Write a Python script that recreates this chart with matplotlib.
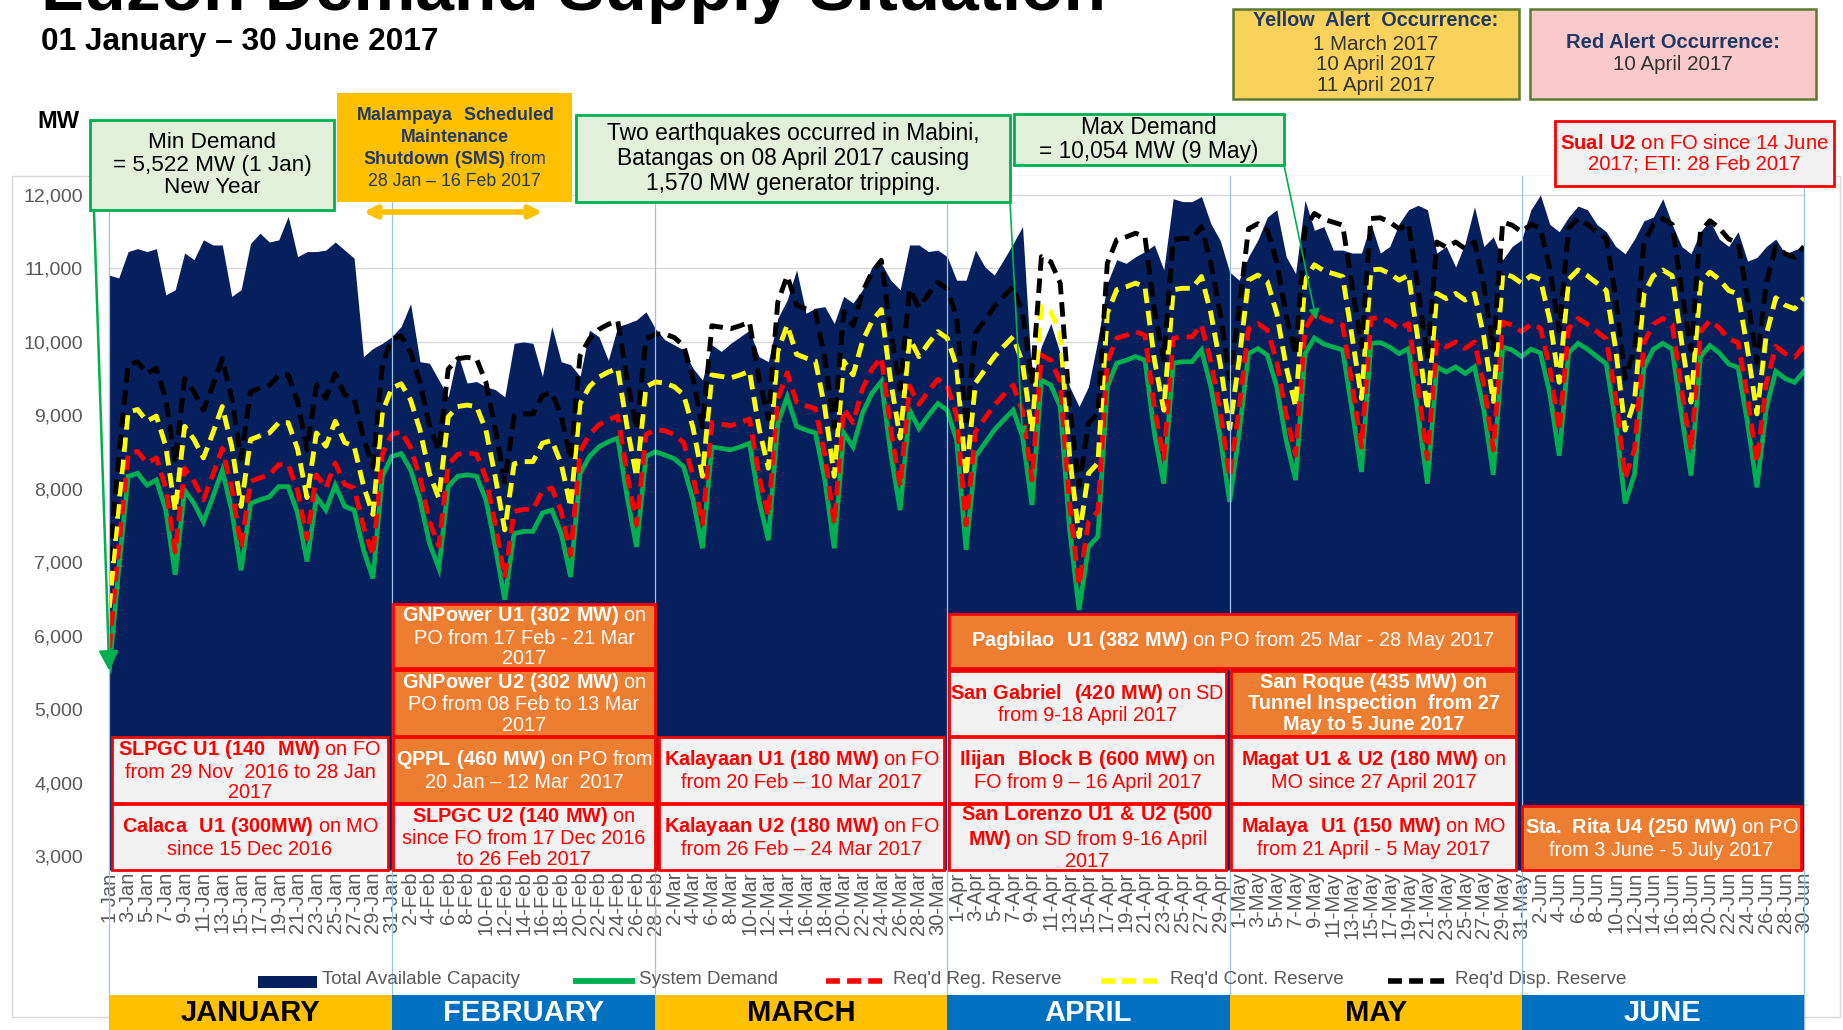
import numpy as np
import pandas as pd
import matplotlib
matplotlib.use("Agg")
import matplotlib.pyplot as plt
from matplotlib.patches import Rectangle
from matplotlib.lines import Line2D
from matplotlib.transforms import blended_transform_factory

plt.rcParams['font.family'] = ['Liberation Sans', 'DejaVu Sans']
plt.rcParams['mathtext.fontset'] = 'custom'
plt.rcParams['mathtext.rm'] = 'Liberation Sans'
plt.rcParams['mathtext.bf'] = 'Liberation Sans:bold'

# --- daily data, 1 Jan - 30 Jun 2017 (MW) ---
capacity = (
    # Jan
    [10910, 10870, 11230, 11270, 11230, 11270, 10640, 10710, 11210, 11120, 11390, 11320, 11320, 10620, 10710, 11340,
     11480, 11360, 11390, 11710, 11160, 11230, 11230, 11250, 11360, 11250, 11140, 9800, 9910, 9980, 10070]
    # Feb
    + [10210, 10520, 9730, 9710, 9480, 9250, 9840, 9440, 9460, 9390, 9350, 9250, 9980, 10000, 9980, 9530, 10210,
       9730, 9690, 9530, 10160, 10070, 9750, 10210, 10250, 10300, 10410, 10180]
    # Mar
    + [10030, 9960, 9890, 9640, 9480, 9960, 9870, 9980, 10070, 10160, 9800, 9730, 10320, 10570, 10980, 10390, 10460,
       10480, 10250, 10620, 10530, 10710, 11020, 11070, 10840, 10710, 11320, 11320, 11230, 11250, 11160]
    # Apr
    + [10840, 10840, 11250, 11020, 10910, 11120, 11340, 11570, 9480, 9940, 10250, 9840, 9390, 9120, 9390, 10030,
       10800, 11120, 11070, 11160, 11230, 11320, 10980, 11950, 11910, 11910, 11980, 11610, 11380, 10950]
    # May
    + [10840, 11160, 11390, 11700, 11800, 11160, 10930, 11930, 11520, 11570, 11250, 11250, 11210, 11210, 11610,
       11210, 11300, 11610, 11800, 11860, 11800, 11210, 11300, 11020, 11340, 11840, 11300, 11430, 11120, 11300, 11390]
    # Jun
    + [11800, 12000, 11600, 11500, 11700, 11850, 11800, 11600, 11500, 11300, 11200, 11400, 11650, 11700, 11950,
       11600, 11300, 11200, 11500, 11650, 11400, 11300, 11500, 11100, 11150, 11300, 11400, 11200, 11250, 11300]
)

demand = (
    [5522, 6900, 8170, 8210, 8050, 8120, 7710, 6830, 7980, 7800, 7550, 7890, 8250, 7710, 6890, 7800, 7850, 7890,
     8030, 8030, 7670, 7010, 7890, 7710, 8050, 7760, 7710, 7170, 6780, 8170, 8440]
    + [8480, 8260, 7850, 7260, 6920, 8030, 8170, 8190, 8170, 7850, 7210, 6490, 7390, 7420, 7420, 7670, 7710, 7390,
       6800, 8210, 8440, 8570, 8640, 8690, 7890, 7210, 8440, 8505]
    + [8460, 8410, 8300, 7850, 7190, 8570, 8550, 8530, 8570, 8620, 7850, 7300, 8890, 9250, 8850, 8800, 8760, 8120,
       7190, 8760, 8570, 9030, 9300, 9460, 8480, 7710, 9070, 8820, 9000, 9160, 9070]
    + [8660, 7170, 8440, 8620, 8800, 8940, 9070, 8710, 7780, 9480, 9410, 9120, 7440, 6350, 7210, 7350, 9390, 9710,
       9750, 9800, 9750, 8760, 8070, 9710, 9730, 9730, 9890, 9390, 8700, 7820]
    + [8750, 9840, 9910, 9820, 9390, 8660, 8120, 9840, 10054, 9970, 9930, 9890, 9070, 8230, 9980, 9990, 9930, 9840,
       9910, 9030, 8070, 9660, 9590, 9660, 9570, 9660, 9070, 8190, 9930, 9890, 9800]
    + [9900, 9850, 9300, 8450, 9850, 9980, 9900, 9800, 9700, 8900, 7800, 8200, 9650, 9900, 9980, 9900, 9000, 8180,
       9800, 9950, 9850, 9700, 9650, 8900, 8020, 9100, 9600, 9500, 9450, 9600]
)

reg_reserve = (
    [5830, 7210, 8470, 8510, 8350, 8420, 8010, 7140, 8280, 8100, 7850, 8190, 8550, 8010, 7200, 8100, 8150, 8190,
     8330, 8330, 7970, 7320, 8190, 8010, 8350, 8060, 8010, 7480, 7090, 8470, 8740]
    + [8780, 8560, 8150, 7560, 7220, 8330, 8470, 8490, 8470, 8150, 7510, 6790, 7690, 7720, 7720, 7970, 8010, 7690,
       7100, 8510, 8740, 8870, 8940, 8990, 8190, 7510, 8740, 8805]
    + [8790, 8740, 8630, 8180, 7520, 8900, 8880, 8860, 8900, 8950, 8180, 7630, 9220, 9580, 9180, 9130, 9090, 8450,
       7520, 9090, 8900, 9360, 9630, 9790, 8810, 8040, 9400, 9150, 9330, 9490, 9400]
    + [9000, 7510, 8780, 8960, 9140, 9280, 9410, 9050, 8120, 9820, 9750, 9460, 7780, 6690, 7550, 7690, 9730, 10050,
       10090, 10140, 10090, 9100, 8410, 10050, 10070, 10070, 10230, 9730, 9040, 8160]
    + [9090, 10180, 10250, 10160, 9730, 9000, 8460, 10180, 10390, 10310, 10270, 10230, 9410, 8570, 10320, 10330,
       10270, 10180, 10250, 9370, 8410, 10000, 9930, 10000, 9910, 10000, 9410, 8530, 10270, 10230, 10140]
    + [10240, 10190, 9640, 8790, 10190, 10320, 10240, 10140, 10040, 9240, 8140, 8540, 9990, 10240, 10320, 10240,
       9340, 8520, 10140, 10290, 10190, 10040, 9990, 9240, 8360, 9440, 9940, 9840, 9790, 9940]
)

cont_reserve = (
    [6380, 7780, 9040, 9080, 8920, 8990, 8580, 7700, 8850, 8670, 8420, 8760, 9120, 8580, 7760, 8670, 8720, 8760,
     8900, 8900, 8540, 7880, 8760, 8580, 8920, 8630, 8580, 8040, 7650, 9040, 9370]
    + [9430, 9210, 8800, 8210, 7870, 8980, 9120, 9140, 9120, 8800, 8160, 7440, 8340, 8370, 8370, 8620, 8660, 8340,
       7750, 9160, 9390, 9520, 9590, 9640, 8840, 8160, 9390, 9455]
    + [9440, 9390, 9280, 8830, 8170, 9550, 9530, 9510, 9550, 9600, 8830, 8280, 9870, 10230, 9830, 9780, 9740, 9100,
       8170, 9740, 9550, 10010, 10280, 10440, 9460, 8690, 10050, 9800, 9980, 10140, 10050]
    + [9660, 8170, 9440, 9620, 9800, 9940, 10070, 9710, 8780, 10480, 10410, 10120, 8440, 7350, 8210, 8350, 10390,
       10710, 10750, 10800, 10750, 9760, 9070, 10710, 10730, 10730, 10890, 10390, 9700, 8820]
    + [9750, 10840, 10910, 10820, 10390, 9660, 9120, 10840, 11050, 10970, 10930, 10890, 10070, 9230, 10980, 10990,
       10930, 10840, 10910, 10030, 9070, 10660, 10590, 10660, 10570, 10660, 10070, 9190, 10930, 10890, 10800]
    + [10900, 10850, 10300, 9450, 10850, 10980, 10900, 10800, 10700, 9900, 8800, 9200, 10650, 10900, 10980, 10900,
       10000, 9180, 10800, 10950, 10850, 10700, 10650, 9900, 9020, 10100, 10600, 10500, 10450, 10600]
)

disp_reserve = (
    [7020, 8420, 9690, 9730, 9570, 9640, 9230, 8350, 9500, 9320, 9070, 9410, 9770, 9230, 8410, 9320, 9370, 9410,
     9550, 9550, 9190, 8530, 9410, 9230, 9570, 9280, 9230, 8690, 8300, 9690, 10040]
    + [10080, 9860, 9450, 8860, 8520, 9630, 9770, 9790, 9770, 9450, 8810, 8090, 8990, 9020, 9020, 9270, 9310, 8990,
       8400, 9810, 10040, 10170, 10240, 10290, 9490, 8810, 10040, 10105]
    + [10110, 10060, 9950, 9500, 8840, 10220, 10200, 10180, 10220, 10270, 9500, 8950, 10540, 10900, 10500, 10450,
       10410, 9770, 8840, 10410, 10220, 10680, 10950, 11110, 10130, 9360, 10720, 10470, 10650, 10810, 10720]
    + [10340, 8850, 10120, 10300, 10480, 10620, 10750, 10390, 9460, 11160, 11090, 10800, 9120, 8030, 8890, 9030,
       11070, 11390, 11430, 11480, 11430, 10440, 9750, 11390, 11410, 11410, 11570, 11070, 10380, 9500]
    + [10450, 11540, 11610, 11520, 11090, 10360, 9820, 11540, 11750, 11670, 11630, 11590, 10770, 9930, 11680,
       11690, 11630, 11540, 11610, 10730, 9770, 11360, 11290, 11360, 11270, 11360, 10770, 9890, 11630, 11590, 11500]
    + [11600, 11550, 11000, 10150, 11550, 11680, 11600, 11500, 11400, 10600, 9500, 9900, 11350, 11600, 11680,
       11600, 10700, 9880, 11500, 11650, 11550, 11400, 11350, 10600, 9720, 10800, 11300, 11200, 11150, 11300]
)

days = pd.date_range('2017-01-01', '2017-06-30', freq='D')
day_labels = [f"{d.day}-{d:%b}" for d in days]
yticks = list(range(3000, 12001, 1000))

# colours
navy = '#06205E'
green = '#00B050'
red = '#FF0000'
yellow = '#FFFF00'
gold = '#FFC000'
blue = '#0070C0'
orange = '#ED7D31'
light = '#F2F2F2'
gray_txt = '#595959'

W, H = 1843, 1030
fig = plt.figure(figsize=(W / 100, H / 100), dpi=100)


def fx(px):
    return px / W


def fy(py):
    return 1 - py / H


x = np.arange(len(days))
ax = fig.add_axes([fx(109.3), fy(870), fx(1804) - fx(109.3), fy(176) - fy(870)])
ax.set_xlim(0, len(days) - 1)
ax.set_ylim(2809, 12259)
y_floor = ax.get_ylim()[0]

ax.fill_between(x, capacity, y_floor, color=navy, lw=0, zorder=1)
ax.plot(x, demand, color=green, lw=3.4, zorder=3, solid_joinstyle='miter')
dash = (0, (3, 1.6))
ax.plot(x, reg_reserve, color=red, lw=3.5, ls=dash, zorder=4)
ax.plot(x, cont_reserve, color=yellow, lw=3.5, ls=dash, zorder=5)
ax.plot(x, disp_reserve, color='black', lw=3.5, ls=dash, zorder=6)

ax.set_yticks(yticks)
ax.set_yticklabels([f"{v:,}" for v in yticks])
ax.yaxis.grid(True, color='#D9D9D9', lw=1)
ax.set_axisbelow(True)
ax.set_xticks(x[::2])
ax.set_xticklabels(day_labels[::2], rotation=90)
ax.tick_params(axis='y', length=0, pad=19, labelsize=14, labelcolor=gray_txt)
ax.tick_params(axis='x', length=0, pad=1, labelsize=14.5, labelcolor=gray_txt)
for s in ax.spines.values():
    s.set_visible(False)

# month boundaries
month_last = [i for i in range(len(days)) if i == len(days) - 1 or days[i + 1].month != days[i].month]
edges = [0] + month_last
month_names = [days[i].strftime('%B').upper() for i in month_last]
trans = blended_transform_factory(ax.transData, fig.transFigure)
for e in edges:
    ax.add_line(Line2D([e, e], [fy(H), fy(176)], transform=trans, color='#9DC3E6', lw=0.9,
                       clip_on=False, zorder=7))
for k, name in enumerate(month_names):
    fc = gold if k % 2 == 0 else blue
    tc = 'black' if k % 2 == 0 else 'white'
    ax.add_patch(Rectangle((edges[k], fy(H)), edges[k + 1] - edges[k], fy(995) - fy(H), transform=trans,
                           facecolor=fc, edgecolor='none', clip_on=False, zorder=8))
    ax.text((edges[k] + edges[k + 1]) / 2, fy(1013), name, transform=trans, ha='center', va='center',
            fontsize=21, weight='bold', color=tc, zorder=9, clip_on=False)

# chart frame
fig.patches.append(Rectangle((fx(12), fy(1017)), fx(1840) - fx(12), fy(176) - fy(1017),
                             transform=fig.transFigure, fill=False, edgecolor='#D9D9D9', lw=1, zorder=-1))

# legend
ly = fy(981)
fig.patches.append(Rectangle((fx(258), fy(988)), fx(317) - fx(258), fy(976) - fy(988),
                             transform=fig.transFigure, facecolor=navy, edgecolor='none'))
fig.add_artist(Line2D([fx(573), fx(635)], [ly, ly], color=green, lw=4.2, solid_capstyle='butt'))
fig.add_artist(Line2D([fx(826), fx(885)], [ly, ly], color=red, lw=4, ls=(0, (2.5, 1.3))))
fig.add_artist(Line2D([fx(1101), fx(1161)], [ly, ly], color=yellow, lw=4, ls=(0, (2.5, 1.3))))
fig.add_artist(Line2D([fx(1388), fx(1448)], [ly, ly], color='black', lw=4, ls=(0, (2.5, 1.3))))
for tx, lab in [(322, 'Total Available Capacity'), (639, 'System Demand'), (893, "Req'd Reg. Reserve"),
                (1170, "Req'd Cont. Reserve"), (1455, "Req'd Disp. Reserve")]:
    fig.text(fx(tx), fy(980), lab, ha='left', va='center', color=gray_txt, fontsize=13.6)

# titles
fig.text(fx(41), fy(10), 'Luzon Demand Supply Situation', fontsize=50, weight='bold', va='baseline')
fig.text(fx(41), fy(42), '01 January \u2013 30 June 2017', fontsize=22.8, weight='bold', va='center')
fig.text(fx(37), fy(121), 'MW', fontsize=17, weight='bold', va='center')


def box(x0, y0, x1, y1, text, fc, ec, tc, size=14.3, lw=2.0, weight='normal', ls=1.12):
    fig.patches.append(Rectangle((fx(x0), fy(y1)), fx(x1) - fx(x0), fy(y0) - fy(y1), transform=fig.transFigure,
                                 facecolor=fc, edgecolor=ec, lw=lw, zorder=10))
    if text:
        fig.text(fx((x0 + x1) / 2), fy((y0 + y1) / 2), text, ha='center', va='center', color=tc, fontsize=size,
                 linespacing=ls, weight=weight, multialignment='center', zorder=11)


# callouts on top
box(90, 120, 334, 210, 'Min Demand\n= 5,522 MW (1 Jan)\nNew Year', '#E2EFDA', green, 'black', size=16.2, ls=1.12)
box(576, 115, 1010, 202, 'Two earthquakes occurred in Mabini,\nBatangas on 08 April 2017 causing\n'
    '1,570 MW generator tripping.', '#E2EFDA', green, 'black', size=16.4, ls=1.12)
box(1014, 114, 1284, 165, 'Max Demand\n= 10,054 MW (9 May)', '#E2EFDA', green, 'black', size=16.4, ls=1.1)
box(337, 93, 572, 202, r'$\bf{Malampaya\ \ Scheduled}$' '\n' r'$\bf{Maintenance}$' '\n'
    r'$\bf{Shutdown\ (SMS)}$ from' '\n28 Jan \u2013 16 Feb 2017', gold, 'none', '#1F3864', size=12.8, ls=1.2)

box(1233, 9, 1519, 99, '', '#F9D25B', '#5A7A2F', 'black', lw=1.8)
fig.text(fx(1376), fy(21), 'Yellow  Alert  Occurrence:', ha='center', va='center', fontsize=14.3,
         weight='bold', color='#1F3864', zorder=11)
fig.text(fx(1376), fy(65), '1 March 2017\n10 April 2017\n11 April 2017', ha='center', va='center',
         fontsize=14.8, color='#333333', linespacing=1.12, zorder=11)
box(1530, 9, 1816, 99, '', '#F9C9CC', '#5A7A2F', 'black', lw=1.8)
fig.text(fx(1673), fy(42), 'Red Alert Occurrence:', ha='center', va='center', fontsize=14.6,
         weight='bold', color='#1F3864', zorder=11)
fig.text(fx(1673), fy(65), '10 April 2017', ha='center', va='center', fontsize=14.8, color='#333333', zorder=11)
box(1555, 121, 1834, 186, r'$\bf{Sual\ U2}$ on FO since 14 June' '\n2017; ETI: 28 Feb 2017', light, red, red,
    size=14.6)

arrow_kw = dict(arrowstyle='-|>', color=green, shrinkA=0, shrinkB=0)
ax.annotate('', xy=(0, 5522), xytext=(94, H - 212), textcoords='figure pixels', annotation_clip=False,
            arrowprops=dict(arrow_kw, lw=1.8, mutation_scale=30), zorder=12)
ax.annotate('', xy=(97, 8710), xytext=(1010, H - 202), textcoords='figure pixels', annotation_clip=False,
            arrowprops=dict(arrow_kw, lw=1.2, mutation_scale=14), zorder=12)
ax.annotate('', xy=(128.2, 10300), xytext=(1284, H - 165), textcoords='figure pixels', annotation_clip=False,
            arrowprops=dict(arrow_kw, lw=1.2, mutation_scale=16), zorder=12)
ax.annotate('', xy=(46, 11769), xytext=(27, 11769), annotation_clip=False,
            arrowprops=dict(arrowstyle='<|-|>', color=gold, lw=4, mutation_scale=18, shrinkA=0, shrinkB=0),
            zorder=12)

# outage boxes at the bottom
outages = [
    (112, 737, 388, 803, r'$\bf{SLPGC\ U1\ (140\ \ MW)}$ on FO' '\nfrom 29 Nov  2016 to 28 Jan\n2017', False),
    (112, 804, 388, 870, r'$\bf{Calaca\ \ U1\ (300MW)}$ on MO' '\nsince 15 Dec 2016', False),
    (393, 604, 655, 668, r'$\bf{GNPower\ U1\ (302\ MW)}$ on' '\nPO from 17 Feb - 21 Mar\n2017', True),
    (393, 670, 655, 736, r'$\bf{GNPower\ U2\ (302\ MW)}$ on' '\nPO from 08 Feb to 13 Mar\n2017', True),
    (393, 737, 655, 803, r'$\bf{QPPL\ (460\ MW)}$ on PO from' '\n20 Jan \u2013 12 Mar  2017', True),
    (393, 804, 655, 870, r'$\bf{SLPGC\ U2\ (140\ MW)}$ on' '\nsince FO from 17 Dec 2016\nto 26 Feb 2017', False),
    (659, 737, 944, 803, r'$\bf{Kalayaan\ U1\ (180\ MW)}$ on FO' '\nfrom 20 Feb \u2013 10 Mar 2017', False),
    (659, 804, 944, 870, r'$\bf{Kalayaan\ U2\ (180\ MW)}$ on FO' '\nfrom 26 Feb \u2013 24 Mar 2017', False),
    (949, 614, 1516, 668, r'$\bf{Pagbilao\ \ U1\ (382\ MW)}$ on PO from 25 Mar - 28 May 2017', True),
    (949, 671, 1226, 736, r'$\bf{San\ Gabriel\ \ (420\ MW)}$ on SD' '\nfrom 9-18 April 2017', False),
    (949, 737, 1226, 803, r'$\bf{Ilijan\ \ Block\ B\ (600\ MW)}$ on' '\nFO from 9 \u2013 16 April 2017', False),
    (949, 804, 1226, 870, r'$\bf{San\ Lorenzo\ U1\ &\ U2\ (500}$' '\n' r'$\bf{MW)}$ on SD from 9-16 April'
     '\n2017', False),
    (1231, 671, 1516, 736, 'San Roque (435 MW) on\nTunnel Inspection  from 27\nMay to 5 June 2017', True),
    (1231, 737, 1516, 803, r'$\bf{Magat\ U1\ &\ U2\ (180\ MW)}$ on' '\nMO since 27 April 2017', False),
    (1231, 804, 1516, 870, r'$\bf{Malaya\ \ U1\ (150\ MW)}$ on MO' '\nfrom 21 April - 5 May 2017', False),
    (1522, 806, 1801, 870, r'$\bf{Sta.\ Rita\ U4\ (250\ MW)}$ on PO' '\nfrom 3 June - 5 July 2017', True),
]
for x0, y0, x1, y1, txt, is_orange in outages:
    wt = 'bold' if '$' not in txt else 'normal'
    if is_orange:
        box(x0, y0, x1, y1, txt, orange, red, 'white', weight=wt)
    else:
        box(x0, y0, x1, y1, txt, light, red, red, weight=wt)

fig.savefig('out.png', dpi=100, facecolor='white')
